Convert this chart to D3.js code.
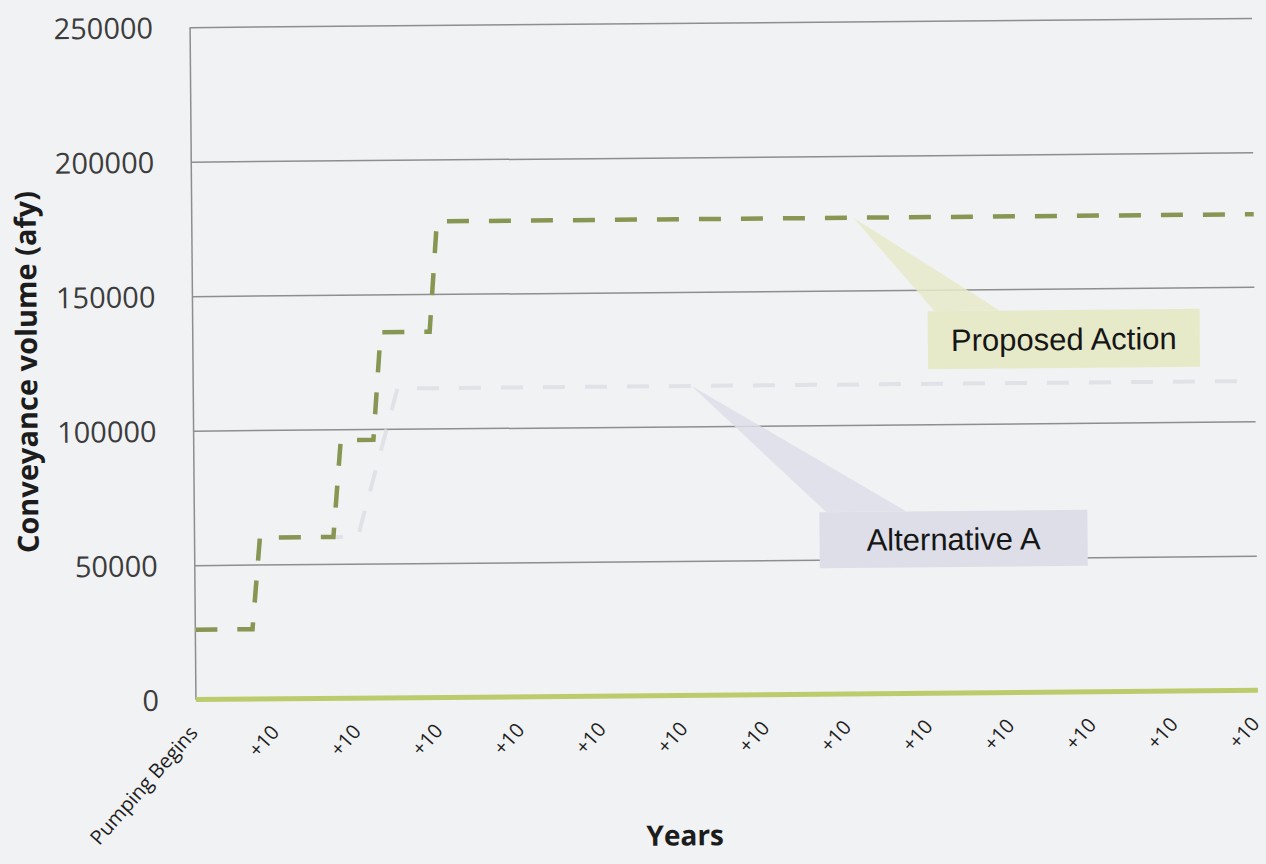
<!DOCTYPE html>
<html>
<head>
<meta charset="utf-8">
<script src="https://cdn.jsdelivr.net/npm/d3@7"></script>
<style>
  html, body { margin: 0; padding: 0; background: #f1f2f4; }
  svg { display: block; }
</style>
</head>
<body>
<svg id="chart" width="1266" height="864"></svg>
<script>
// Years after pumping begins, with a category label every ten years
const tickYears = [0, 10, 20, 30, 40, 50, 60, 70, 80, 90, 100, 110, 120, 130];
const tickLabels = ["Pumping Begins", "+10", "+10", "+10", "+10", "+10", "+10",
                    "+10", "+10", "+10", "+10", "+10", "+10", "+10"];
const yTicks = [0, 50000, 100000, 150000, 200000, 250000];

// Conveyance volume (afy) at the years where each series changes
const proposedYears  = [0, 7, 8, 17, 18, 22, 23, 29, 30, 130];
const proposedValues = [26000, 26000, 60000, 60000, 96000, 96000, 136000, 136000, 177000, 177000];

const altAYears  = [0, 7, 8, 20, 25, 130];
const altAValues = [26000, 26000, 60000, 60000, 115000, 115000];

const baseYears  = [0, 130];
const baseValues = [0, 0];

const svg = d3.select("#chart");
const plotLeft = 193, plotRight = 1255, plotTop = 22.5, plotBottom = 695;

const x = d3.scaleLinear().domain([0, 130]).range([plotLeft, plotRight]);
const y = d3.scaleLinear().domain([0, 250000]).range([plotBottom, plotTop]);

// whole chart sits very slightly tilted on the page
const g = svg.append("g").attr("transform", "rotate(-0.5, 724, 360)");

// value axis with full-width gridlines
const yAxis = g.append("g")
  .attr("transform", `translate(${plotLeft},0)`)
  .call(d3.axisLeft(y).tickValues(yTicks).tickSize(-(plotRight - plotLeft)).tickPadding(37)
        .tickFormat(d3.format("d")));
yAxis.select(".domain").remove();
yAxis.selectAll("line").attr("stroke", "#8e8e8e").attr("stroke-width", 1.5);
yAxis.selectAll("text")
  .attr("fill", "#3c3c3c")
  .style("font-family", "'Open Sans', sans-serif")
  .style("font-size", "29px")
  .attr("dy", "0.36em");

// vertical axis line
g.append("line")
  .attr("x1", plotLeft).attr("x2", plotLeft)
  .attr("y1", plotTop).attr("y2", plotBottom)
  .attr("stroke", "#8e8e8e").attr("stroke-width", 1.5);

// category axis with slanted labels
const xAxis = g.append("g")
  .attr("transform", `translate(0,${plotBottom})`)
  .call(d3.axisBottom(x).tickValues(tickYears).tickSize(0)
        .tickFormat((d, i) => tickLabels[i]));
xAxis.select(".domain").remove();
xAxis.selectAll("text")
  .attr("x", 0).attr("y", 0).attr("dy", 0)
  .attr("transform", "translate(2,34) rotate(-48)")
  .style("text-anchor", "end")
  .style("font-family", "'Open Sans', sans-serif")
  .style("font-size", "20px")
  .attr("fill", "#1e1e1e");

const line = d3.line().x(d => x(d[0])).y(d => y(d[1]));

// baseline series along zero
g.append("path")
  .datum(d3.zip(baseYears, baseValues))
  .attr("d", line)
  .attr("fill", "none")
  .attr("stroke", "#bccc6c")
  .attr("stroke-width", 5);

// Alternative A (faint)
g.append("path")
  .datum(d3.zip(altAYears, altAValues))
  .attr("d", line)
  .attr("fill", "none")
  .attr("stroke", "#e0e2e7")
  .attr("stroke-width", 4)
  .attr("stroke-dasharray", "22,20");

// Proposed Action
g.append("path")
  .datum(d3.zip(proposedYears, proposedValues))
  .attr("d", line)
  .attr("fill", "none")
  .attr("stroke", "#879652")
  .attr("stroke-width", 4.5)
  .attr("stroke-dasharray", "22,20");

// callouts
function callout(tipYear, tipValue, box, wedge, fill, label) {
  const tx = x(tipYear), ty = y(tipValue);
  g.append("path")
    .attr("d", `M${tx},${ty} L${wedge[1]},${box.y} L${wedge[0]},${box.y} Z`)
    .attr("fill", fill).attr("opacity", 0.85);
  g.append("rect")
    .attr("x", box.x).attr("y", box.y)
    .attr("width", box.w).attr("height", box.h)
    .attr("fill", fill);
  g.append("text")
    .attr("x", box.x + box.w / 2).attr("y", box.y + box.h / 2 + 11)
    .attr("text-anchor", "middle")
    .style("font-family", "'Liberation Sans', Arial, sans-serif")
    .style("font-size", "31px")
    .attr("fill", "#161616")
    .text(label);
}
callout(81, 177000, {x: 928, y: 313, w: 272, h: 58}, [935, 1000], "#e7eac9", "Proposed Action");
callout(61, 115000, {x: 818, y: 513, w: 268, h: 56}, [825, 905], "#dddee7", "Alternative A");

// axis titles
g.append("text")
  .attr("transform", "translate(37,366) rotate(-90)")
  .attr("text-anchor", "middle")
  .style("font-family", "'Open Sans', sans-serif")
  .style("font-weight", "bold")
  .style("font-size", "29px")
  .attr("fill", "#1c1c1c")
  .text("Conveyance volume (afy)");

g.append("text")
  .attr("x", 681).attr("y", 845)
  .attr("text-anchor", "middle")
  .style("font-family", "'Open Sans', sans-serif")
  .style("font-weight", "bold")
  .style("font-size", "28px")
  .attr("fill", "#1c1c1c")
  .text("Years");
</script>
</body>
</html>
